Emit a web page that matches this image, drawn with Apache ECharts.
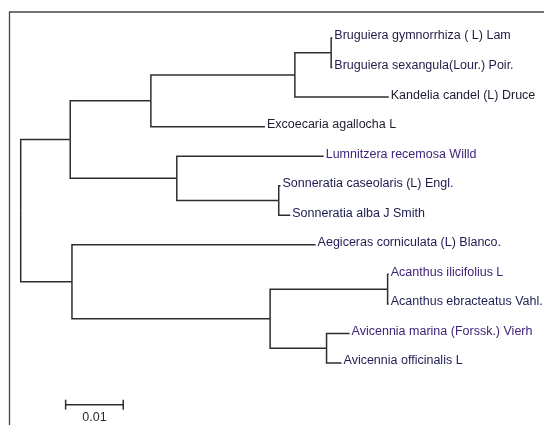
<!DOCTYPE html>
<html>
<head>
<meta charset="utf-8">
<script src="https://cdn.jsdelivr.net/npm/echarts@6/dist/echarts.min.js"></script>
<style>
  html, body { margin: 0; padding: 0; background: #fff; }
  #chart { width: 544px; height: 425px; }
</style>
</head>
<body>
<div id="chart"></div>
<script>
// Leaf taxa, top to bottom
const taxa = [
  'Bruguiera gymnorrhiza ( L) Lam',
  'Bruguiera sexangula(Lour.) Poir.',
  'Kandelia candel (L) Druce',
  'Excoecaria agallocha L',
  'Lumnitzera recemosa Willd',
  'Sonneratia caseolaris (L) Engl.',
  'Sonneratia alba J Smith',
  'Aegiceras corniculata (L) Blanco.',
  'Acanthus ilicifolius L',
  'Acanthus ebracteatus Vahl.',
  'Avicennia marina (Forssk.) Vierh',
  'Avicennia officinalis L'
];
// Internal node each taxon hangs from, and its terminal branch length
const taxonParent = [4, 4, 3, 2, 5, 6, 6, 7, 9, 9, 10, 10];
const taxonBranch = [0.0002, 0.0002, 0.0163, 0.0198, 0.0255, 0.0003, 0.0020, 0.0423, 0.0002, 0.0002, 0.0040, 0.0026];
// Internal nodes: parent index (-1 = root) and branch length to parent
const nodeParent = [-1, 0, 1, 2, 3, 1, 5, 0, 7, 8, 8];
const nodeBranch = [0, 0.0086, 0.0140, 0.0250, 0.0063, 0.0185, 0.0177, 0.0089, 0.0344, 0.0204, 0.0098];
// Scale bar
const scaleBarLength = 0.01;
const scaleBarLabel = '0.01';

// Label tint per taxon
const labelColors = ['#221a48', '#221a48', '#1c1c30', '#1c1c30', '#40237a', '#1a1a4e',
                     '#1a1a4e', '#241a52', '#40237a', '#1e1e54', '#40237a', '#1e1e54'];

// Node depths (parents precede children in the list)
const nodeDepth = nodeParent.map(() => 0);
nodeParent.forEach((p, i) => { if (p >= 0) nodeDepth[i] = nodeDepth[p] + nodeBranch[i]; });

// Node rows: midpoint of the outermost child rows
const childRows = nodeParent.map(() => []);
taxonParent.forEach((p, i) => childRows[p].push(i));
const nodeRow = nodeParent.map(() => 0);
for (let i = nodeParent.length - 1; i >= 0; i--) {
  const rows = childRows[i];
  nodeRow[i] = (Math.min.apply(null, rows) + Math.max.apply(null, rows)) / 2;
  if (nodeParent[i] >= 0) childRows[nodeParent[i]].push(nodeRow[i]);
}

// Edges: [parentDepth, parentRow, childDepth, childRow, taxonIndex]
const edges = [];
nodeParent.forEach((p, i) => {
  if (p >= 0) edges.push([nodeDepth[p], nodeRow[p], nodeDepth[i], nodeRow[i], -1]);
});
taxonParent.forEach((p, i) => {
  edges.push([nodeDepth[p], nodeRow[p], nodeDepth[p] + taxonBranch[i], i, i]);
});

const LINE = '#2e2e2e';
const FONT = '"Liberation Sans", Arial, sans-serif';

const chart = echarts.init(document.getElementById('chart'), null, { renderer: 'canvas' });
chart.setOption({
  backgroundColor: '#fff',
  animation: false,
  grid: { left: 20.7, right: 62.5, top: 38, bottom: 62 },
  xAxis: { type: 'value', min: 0, max: 0.08, show: false, splitLine: { show: false } },
  yAxis: { type: 'value', min: 0, max: 11, inverse: true, show: false, splitLine: { show: false } },
  graphic: [{
    type: 'rect',
    shape: { x: 9.5, y: 12, width: 700, height: 600 },
    style: { fill: 'none', stroke: '#444', lineWidth: 1.3 },
    silent: true
  }],
  series: [
    {
      type: 'custom',
      clip: false,
      data: edges,
      renderItem: function (params, api) {
        const p0 = api.coord([api.value(0), api.value(1)]);
        const p1 = api.coord([api.value(0), api.value(3)]);
        const p2 = api.coord([api.value(2), api.value(3)]);
        const children = [{
          type: 'polyline',
          shape: { points: [p0, p1, p2] },
          style: { stroke: LINE, lineWidth: 1.5, fill: 'none' }
        }];
        const t = api.value(4);
        if (t >= 0) {
          children.push({
            type: 'text',
            x: p2[0] + 2,
            y: p2[1] - 2,
            style: {
              text: taxa[t],
              fill: labelColors[t],
              font: '12.5px ' + FONT,
              align: 'left',
              verticalAlign: 'middle'
            }
          });
        }
        return { type: 'group', children: children };
      }
    },
    {
      type: 'custom',
      clip: false,
      data: [[0.0078, 12.41, scaleBarLength]],
      renderItem: function (params, api) {
        const a = api.coord([api.value(0), api.value(1)]);
        const b = api.coord([api.value(0) + api.value(2), api.value(1)]);
        const s = { stroke: LINE, lineWidth: 1.5, fill: 'none' };
        return {
          type: 'group',
          children: [
            { type: 'line', shape: { x1: a[0], y1: a[1], x2: b[0], y2: b[1] }, style: s },
            { type: 'line', shape: { x1: a[0], y1: a[1] - 5, x2: a[0], y2: a[1] + 5 }, style: s },
            { type: 'line', shape: { x1: b[0], y1: b[1] - 5, x2: b[0], y2: b[1] + 5 }, style: s },
            {
              type: 'text',
              x: (a[0] + b[0]) / 2,
              y: a[1] + 13,
              style: {
                text: scaleBarLabel,
                fill: '#2a2a2a',
                font: '12.5px ' + FONT,
                align: 'center',
                verticalAlign: 'middle'
              }
            }
          ]
        };
      }
    }
  ]
});
</script>
</body>
</html>
